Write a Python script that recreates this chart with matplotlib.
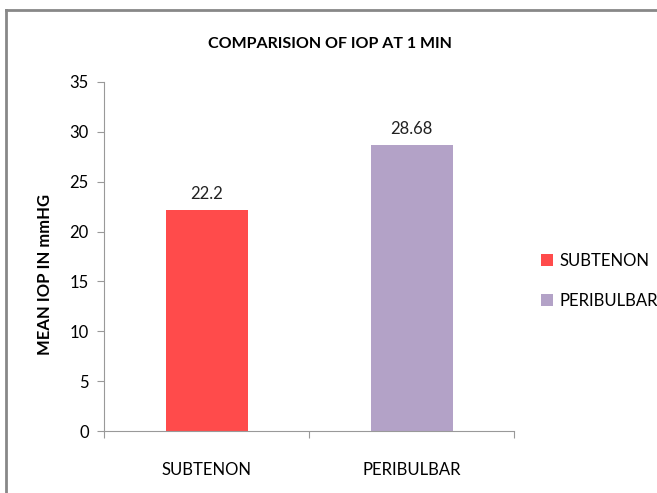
import matplotlib
matplotlib.use('Agg')
import matplotlib.pyplot as plt
from matplotlib.lines import Line2D

# data
groups = ['SUBTENON', 'PERIBULBAR']
iop = [22.2, 28.68]
labels = ['22.2', '28.68']
colors = ['#FF4B4B', '#B3A2C7']

plt.rcParams['font.family'] = ['Lato', 'DejaVu Sans']

fig = plt.figure(figsize=(6.57, 4.93), dpi=100)
ax = fig.add_axes([104 / 657, 1 - 431 / 493, 410 / 657, 349 / 493])

x = range(len(groups))
bars = ax.bar(x, iop, width=0.4, color=colors, label=groups)
for b, t in zip(bars, labels):
    ax.text(b.get_x() + b.get_width() / 2, b.get_height() + 0.8, t,
            ha='center', va='bottom', fontsize=12, color='#222222')

ax.set_xlim(-0.5, 1.5)
ax.set_ylim(0, 35)
ax.set_yticks(range(0, 36, 5))
ax.set_xticks([-0.5, 0.5, 1.5], minor=False)
ax.set_xticklabels([])
ax.set_xticks(list(x), minor=True)
ax.set_xticklabels(groups, minor=True)
ax.tick_params(axis='x', which='minor', length=0, pad=22, labelsize=12)
ax.tick_params(axis='x', which='major', length=5, direction='out', color='#999999')
ax.tick_params(axis='y', length=5, color='#999999', labelsize=12, pad=6)
for s in ['top', 'right']:
    ax.spines[s].set_visible(False)
ax.spines['left'].set_color('#999999')
ax.spines['bottom'].set_color('#999999')

ax.set_ylabel('MEAN IOP IN mmHG', fontsize=12, fontweight='bold')
ax.yaxis.set_label_coords(-0.125, 0.45)
fig.text(330 / 657, 1 - 44 / 493, 'COMPARISION OF IOP AT 1 MIN',
         ha='center', va='center', fontsize=11.5, fontweight='bold')

ax.legend(handles=bars, labels=groups, loc='center left', bbox_to_anchor=(1.03, 0.43),
          frameon=False, fontsize=12, handlelength=0.7, handleheight=0.7,
          labelspacing=1.45, handletextpad=0.4)

# outer frame
fig.add_artist(Line2D([6 / 657, 6 / 657], [0, 1 - 10 / 493], color='#888888', lw=2))
fig.add_artist(Line2D([6 / 657, 656 / 657], [1 - 10 / 493, 1 - 10 / 493], color='#888888', lw=2))

fig.savefig('out.png', dpi=100)
